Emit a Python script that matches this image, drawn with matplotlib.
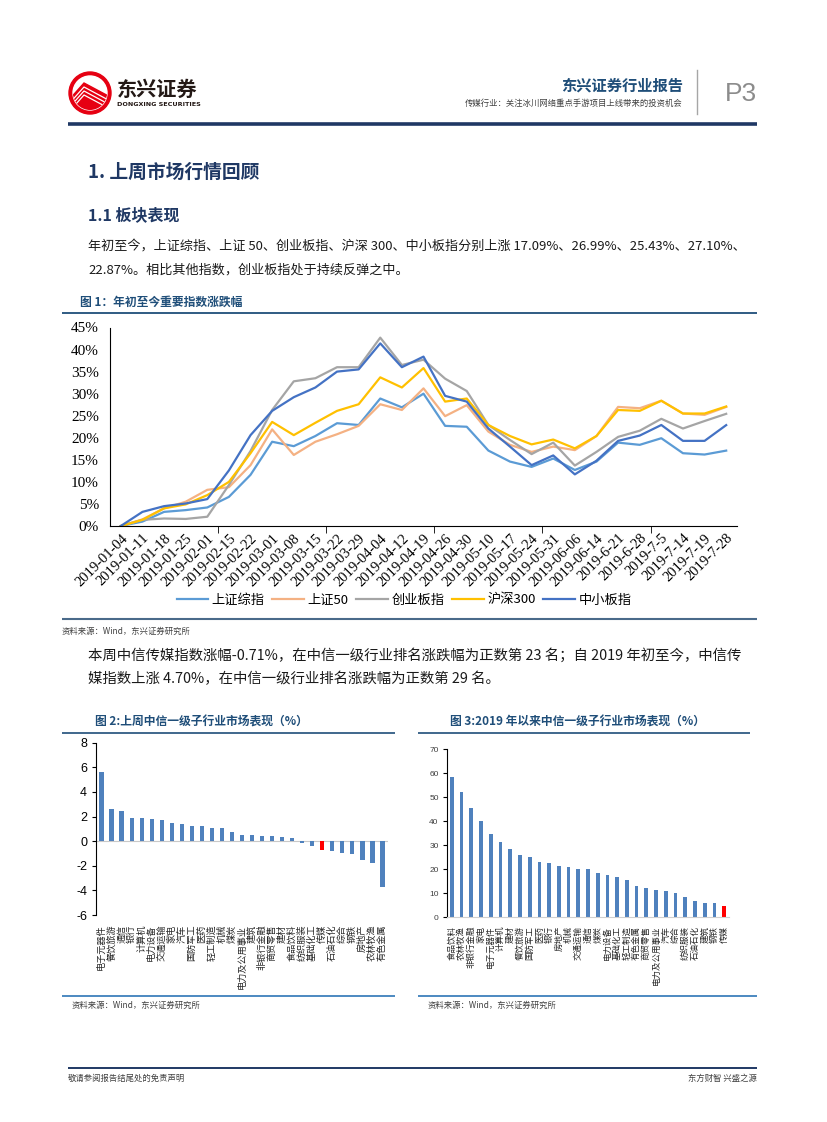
import matplotlib
matplotlib.use("Agg")
import matplotlib.pyplot as plt
from matplotlib.patches import Circle, Polygon

plt.rcParams['font.family'] = ['Noto Sans CJK SC', 'DejaVu Sans']
plt.rcParams['axes.unicode_minus'] = False

W, H = 827, 1122

# --- data: figure 1, cumulative change since 2019-01-04 (%) ---
dates = ['2019-01-04', '2019-01-11', '2019-01-18', '2019-01-25', '2019-02-01',
         '2019-02-15', '2019-02-22', '2019-03-01', '2019-03-08', '2019-03-15',
         '2019-03-22', '2019-03-29', '2019-04-04', '2019-04-12', '2019-04-19',
         '2019-04-26', '2019-04-30', '2019-05-10', '2019-05-17', '2019-05-24',
         '2019-05-31', '2019-06-06', '2019-06-14', '2019-6-21', '2019-6-28',
         '2019-7-5', '2019-7-14', '2019-7-19', '2019-7-28']
sh_comp = [0, 1.0, 3.2, 3.6, 4.2, 6.6, 11.6, 19.1, 18.1, 20.4, 23.3, 22.9, 28.9, 26.9, 30.0,
           22.7, 22.5, 17.1, 14.6, 13.4, 15.3, 12.7, 14.6, 18.9, 18.4, 19.9, 16.5, 16.2, 17.09]
sh50 = [0, 1.5, 4.0, 5.5, 8.2, 8.8, 13.8, 21.9, 16.1, 19.1, 20.8, 22.7, 27.6, 26.3, 31.2,
        24.9, 27.4, 21.4, 18.4, 16.8, 18.0, 17.2, 20.4, 27.0, 26.7, 28.4, 25.5, 25.2, 26.99]
chinext = [0, 1.4, 1.7, 1.6, 2.1, 9.3, 17.0, 26.3, 32.8, 33.5, 36.0, 36.0, 42.7, 36.5, 37.7,
           33.4, 30.6, 22.9, 19.5, 16.3, 18.9, 13.7, 16.8, 20.2, 21.6, 24.3, 22.1, 23.8, 25.43]
hs300 = [0, 1.4, 4.0, 4.9, 7.0, 10.0, 16.5, 23.6, 20.6, 23.4, 26.1, 27.6, 33.7, 31.4, 35.8,
         28.2, 28.9, 22.9, 20.4, 18.5, 19.6, 17.6, 20.4, 26.3, 26.1, 28.4, 25.5, 25.5, 27.10]
sme = [0, 3.2, 4.5, 5.1, 6.1, 12.6, 20.6, 26.1, 29.2, 31.4, 35.0, 35.5, 41.4, 36.0, 38.4,
       29.5, 28.2, 22.1, 18.0, 13.8, 16.0, 11.7, 14.8, 19.3, 20.5, 22.9, 19.3, 19.3, 22.87]
index_names = ['上证综指', '上证50', '创业板指', '沪深300', '中小板指']
index_colors = ['#5B9BD5', '#F4B183', '#A5A5A5', '#FFC000', '#4472C4']
yticks1 = [0, 5, 10, 15, 20, 25, 30, 35, 40, 45]

# --- data: figure 2, last week's industry change (%) ---
week_inds = ['电子元器件', '餐饮旅游', '通信', '银行', '计算机', '电力设备', '交通运输', '家电',
             '汽车', '国防军工', '医药', '轻工制造', '机械', '煤炭', '电力及公用事业', '建筑',
             '非银行金融', '商贸零售', '建材', '食品饮料', '纺织服装', '基础化工', '传媒',
             '石油石化', '综合', '钢铁', '房地产', '农林牧渔', '有色金属']
week_vals = [5.6, 2.6, 2.44, 1.92, 1.9, 1.76, 1.68, 1.49, 1.41, 1.25, 1.24, 1.06, 1.05, 0.73,
             0.54, 0.46, 0.45, 0.38, 0.33, 0.24, -0.16, -0.43, -0.71, -0.84, -0.96, -1.05,
             -1.57, -1.74, -3.76]
yticks2 = [-6, -4, -2, 0, 2, 4, 6, 8]

# --- data: figure 3, industry change since start of 2019 (%) ---
ytd_inds = ['食品饮料', '农林牧渔', '非银行金融', '家电', '电子元器件', '计算机', '建材',
            '餐饮旅游', '国防军工', '医药', '银行', '房地产', '机械', '交通运输', '通信', '煤炭',
            '电力设备', '基础化工', '轻工制造', '有色金属', '商贸零售', '电力及公用事业', '汽车',
            '综合', '纺织服装', '石油石化', '建筑', '钢铁', '传媒']
ytd_vals = [58.3, 52.2, 45.6, 40.3, 34.6, 31.3, 28.5, 25.9, 25.3, 23.2, 22.7, 21.4, 21.0, 20.2,
            20.1, 18.4, 17.6, 16.7, 15.4, 13.2, 12.4, 11.5, 11.0, 10.2, 8.5, 6.8, 5.8, 5.8, 4.70]
yticks3 = [0, 10, 20, 30, 40, 50, 60, 70]

NAVY = '#1F3864'
TITLE_BLUE = '#1F4E79'
BAR_BLUE = '#4F81BD'
LOGO_RED = '#E60012'


def rect(left, top, right, bottom):
    # pixel box -> figure fraction
    return [left / W, 1 - bottom / H, (right - left) / W, (bottom - top) / H]


fig = plt.figure(figsize=(W / 100, H / 100), dpi=100)
renderer = fig.canvas.get_renderer()

# page overlay in pixel coordinates
page = fig.add_axes([0, 0, 1, 1])
page.set_xlim(0, W)
page.set_ylim(H, 0)
page.axis('off')


def hline(y, x0, x1, color, lw):
    page.plot([x0, x1], [y, y], color=color, lw=lw, solid_capstyle='butt')


def fit_text(x, y, s, width, size):
    t = page.text(x, y, s, fontsize=size, va='center', ha='left', color='#1a1a1a')
    w = t.get_window_extent(renderer).width
    new = size * width / w
    t.set_fontsize(new)
    return new


# --- header ---
page.add_patch(Circle((90, 93), 21, color=LOGO_RED))
inner = Circle((90, 93), 17, color='white')
page.add_patch(inner)
roof = Polygon([(68, 101), (84, 83), (114, 99), (114, 120), (68, 120)], closed=True,
               color=LOGO_RED)
page.add_patch(roof)
roof.set_clip_path(inner)
for off in (4, 8, 12):
    stripe, = page.plot([68, 84, 114], [101 + off, 83 + off, 99 + off], color='white', lw=0.9)
    stripe.set_clip_path(inner)
page.text(117, 89, '东兴证券', fontsize=14.5, fontweight='bold', color='#231815', va='center')
page.text(117, 104, 'DONGXING SECURITIES', fontsize=4.6, fontweight='bold', color='#231815',
          va='center', family='DejaVu Sans')
page.text(683, 86, '东兴证券行业报告', fontsize=11, fontweight='bold', color=TITLE_BLUE,
          va='center', ha='right')
page.text(683, 103, '传媒行业：关注冰川网络重点手游项目上线带来的投资机会', fontsize=6,
          color='#404040', va='center', ha='right')
page.plot([697, 697], [70, 114], color='#A6A6A6', lw=1)
page.text(725, 94, 'P3', fontsize=19, color='#8C8C8C', va='center', ha='left',
          family='Liberation Sans')
hline(124, 68, 757, NAVY, 2.6)

# --- headings and paragraph 1 ---
page.text(88, 172, '1. 上周市场行情回顾', fontsize=13.5, fontweight='bold', color=NAVY, va='center')
page.text(88, 215, '1.1 板块表现', fontsize=11.5, fontweight='bold', color=NAVY, va='center')
fs = fit_text(88, 246, '年初至今，上证综指、上证 50、创业板指、沪深 300、中小板指分别上涨 '
              '17.09%、26.99%、25.43%、27.10%、', 655, 10)
page.text(88, 270, '22.87%。相比其他指数，创业板指处于持续反弹之中。', fontsize=fs,
          va='center', color='#1a1a1a')

# --- figure 1 frame ---
page.text(80, 302, '图 1：年初至今重要指数涨跌幅', fontsize=8.5, fontweight='bold',
          color=TITLE_BLUE, va='center')
hline(313, 62, 757, TITLE_BLUE, 1.3)
hline(619, 62, 757, '#4A6A8A', 1.5)
page.text(62, 631, '资料来源：Wind，东兴证券研究所', fontsize=6, color='#404040', va='center')

ax1 = fig.add_axes(rect(110, 327.5, 737, 526))
xs = range(len(dates))
for vals, name, col in zip([sh_comp, sh50, chinext, hs300, sme], index_names, index_colors):
    ax1.plot(xs, vals, color=col, lw=1.6, label=name)
ax1.set_xlim(-0.5, len(dates) - 0.5)
ax1.set_ylim(0, 45)
ax1.set_yticks(yticks1)
ax1.set_yticklabels([f'{v}%' for v in yticks1], family='Liberation Serif', fontsize=11)
ax1.tick_params(axis='y', length=0, pad=8)
ax1.set_xticks(list(xs))
ax1.set_xticklabels(dates, rotation=45, ha='right', va='top', rotation_mode='anchor',
                    family='Liberation Serif', fontsize=10.5)
ax1.tick_params(axis='x', length=0, pad=4)
ax1.set_xticks([-0.5 + 2.5 * k for k in range(1, 12)], minor=True)
ax1.tick_params(axis='x', which='minor', length=5, direction='out', color='black')
for s in ['top', 'right']:
    ax1.spines[s].set_visible(False)
ax1.spines['left'].set_color('black')
ax1.spines['bottom'].set_color('black')
ax1.patch.set_alpha(0)
ax1.legend(loc='center', bbox_to_anchor=(404 / W, 1 - 600 / H), bbox_transform=fig.transFigure,
           ncol=5, frameon=False, fontsize=9.5, handlelength=2.4, columnspacing=0.6,
           handletextpad=0.25)

# --- paragraph 2 ---
fs2 = fit_text(88, 655, '本周中信传媒指数涨幅-0.71%，在中信一级行业排名涨跌幅为正数第 23 名；'
               '自 2019 年初至今，中信传', 655, 10)
page.text(88, 679, '媒指数上涨 4.70%，在中信一级行业排名涨跌幅为正数第 29 名。', fontsize=fs2,
          va='center', color='#1a1a1a')

# --- figure 2 / 3 frames ---
page.text(95, 722, '图 2:上周中信一级子行业市场表现（%）', fontsize=8.5, fontweight='bold',
          color=TITLE_BLUE, va='center')
page.text(450, 722, '图 3:2019 年以来中信一级子行业市场表现（%）', fontsize=8.5, fontweight='bold',
          color=TITLE_BLUE, va='center')
hline(733, 62, 395, TITLE_BLUE, 1.2)
hline(733, 418, 750, TITLE_BLUE, 1.2)
hline(996, 62, 395, '#2E75B6', 1.2)
hline(996, 418, 757, '#2E75B6', 1.2)
page.text(72, 1005, '资料来源：Wind，东兴证券研究所', fontsize=6, color='#404040', va='center')
page.text(428, 1005, '资料来源：Wind，东兴证券研究所', fontsize=6, color='#404040', va='center')

ax2 = fig.add_axes(rect(95.5, 742.7, 387.5, 915))
cols2 = ['#FF0000' if n == '传媒' else BAR_BLUE for n in week_inds]
ax2.bar(range(len(week_inds)), week_vals, width=0.42, color=cols2)
ax2.axhline(0, color='#C8C8C8', lw=0.8, zorder=0)
ax2.set_xlim(-0.6, len(week_inds) - 0.5)
ax2.set_ylim(-6, 8)
ax2.set_yticks(yticks2)
ax2.set_yticklabels([str(v) for v in yticks2], family='Liberation Sans', fontsize=9)
ax2.tick_params(axis='y', length=3, direction='out', pad=3)
ax2.set_xticks(range(len(week_inds)))
ax2.set_xticklabels(week_inds, rotation=90, fontsize=6.6, color='#262626')
ax2.tick_params(axis='x', length=0, pad=7)
for s in ['top', 'right', 'bottom']:
    ax2.spines[s].set_visible(False)
ax2.spines['left'].set_color('black')
ax2.patch.set_alpha(0)

ax3 = fig.add_axes(rect(447, 749.3, 729, 917.3))
cols3 = ['#FF0000' if n == '传媒' else BAR_BLUE for n in ytd_inds]
ax3.bar(range(len(ytd_inds)), ytd_vals, width=0.38, color=cols3)
ax3.set_xlim(-0.5, len(ytd_inds) - 0.5)
ax3.set_ylim(0, 70)
ax3.set_yticks(yticks3)
ax3.set_yticklabels([str(v) for v in yticks3], family='Liberation Sans', fontsize=6,
                    color='#404040')
ax3.tick_params(axis='y', length=3, direction='out', pad=3)
ax3.set_xticks(range(len(ytd_inds)))
ax3.set_xticklabels(ytd_inds, rotation=90, fontsize=6.1, color='#262626')
ax3.tick_params(axis='x', length=0, pad=6)
for s in ['top', 'right']:
    ax3.spines[s].set_visible(False)
ax3.spines['bottom'].set_color('#D0D0D0')
ax3.spines['left'].set_color('black')
ax3.patch.set_alpha(0)

# --- footer ---
hline(1068, 68, 757, NAVY, 1.4)
page.text(68, 1078, '敬请参阅报告结尾处的免责声明', fontsize=6, color='#404040', va='center')
page.text(757, 1078, '东方财智 兴盛之源', fontsize=6, color='#404040', va='center', ha='right')

fig.savefig('out.png', dpi=100)
